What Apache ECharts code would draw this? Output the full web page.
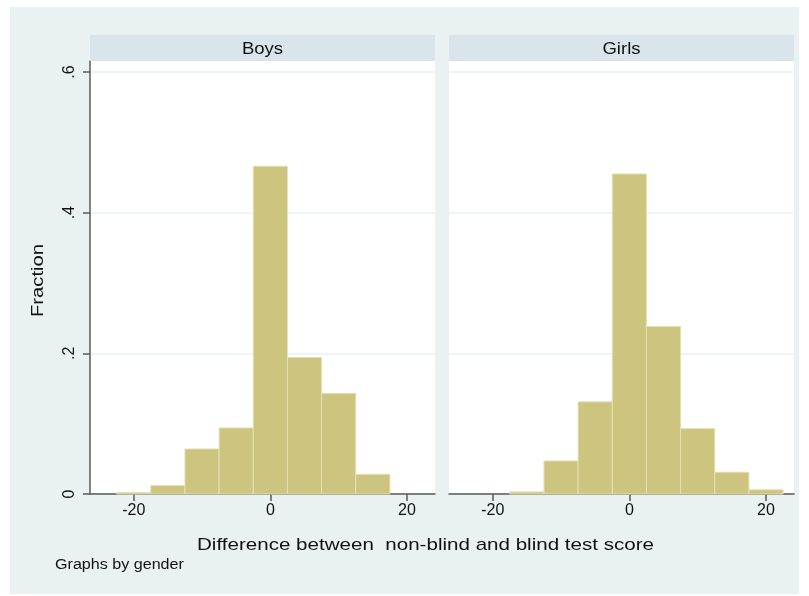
<!DOCTYPE html>
<html>
<head>
<meta charset="utf-8">
<script src="https://cdn.jsdelivr.net/npm/echarts@6/dist/echarts.min.js"></script>
<style>
  html, body { margin: 0; padding: 0; background: #ffffff; }
  #chart { width: 809px; height: 596px; }
</style>
</head>
<body>
<div id="chart"></div>
<script>
// Histogram bins: width 5, lower edges listed per panel
const binWidth = 5;
const boysBinStart = [-22.5, -17.5, -12.5, -7.5, -2.5, 2.5, 7.5, 12.5];
const boysFraction = [0.002, 0.012, 0.064, 0.094, 0.466, 0.194, 0.143, 0.028];
const girlsBinStart = [-17.5, -12.5, -7.5, -2.5, 2.5, 7.5, 12.5, 17.5];
const girlsFraction = [0.003, 0.047, 0.131, 0.455, 0.238, 0.093, 0.031, 0.006];

const panelTitles = ['Boys', 'Girls'];
const xTickValues = [-20, 0, 20];
const yTickValues = [0, 0.2, 0.4, 0.6];
const xAxisTitle = 'Difference between  non-blind and blind test score';
const yAxisTitle = 'Fraction';
const noteText = 'Graphs by gender';

const FONT = '"Liberation Sans", Arial, sans-serif';
const BAR_FILL = '#cdc47f';
const BAR_EDGE = '#e4e0b4';
const AXIS_COLOR = '#5a5a5a';
const GRID_COLOR = '#eaf1f3';

function binData(starts, values) {
  return starts.map((s, i) => [s, s + binWidth, values[i]]);
}

function renderBin(params, api) {
  const lo = api.coord([api.value(0), 0]);
  const hi = api.coord([api.value(1), api.value(2)]);
  return {
    type: 'rect',
    shape: { x: lo[0], y: hi[1], width: hi[0] - lo[0], height: lo[1] - hi[1] },
    style: { fill: BAR_FILL, stroke: BAR_EDGE, lineWidth: 1 }
  };
}

function yLabel(v) {
  if (Math.abs(v) < 1e-9) return '0';
  return '.' + Math.round(v * 10);
}

const panelLeft = [90, 449];
const panelWidth = 345;
const plotTop = 61;
const plotHeight = 433;

const grids = panelLeft.map(l => ({
  left: l, top: plotTop, width: panelWidth, height: plotHeight,
  show: true, backgroundColor: '#ffffff', borderWidth: 0
}));

const xAxes = [0, 1].map(i => ({
  type: 'value', gridIndex: i, min: -26.4, max: 24.1,
  axisLine: { show: true, onZero: false, lineStyle: { color: AXIS_COLOR, width: 1.5 } },
  axisTick: { show: true, customValues: xTickValues, length: 7, lineStyle: { color: AXIS_COLOR, width: 1.5 } },
  axisLabel: { show: true, customValues: xTickValues, color: '#111', fontFamily: FONT, fontSize: 16, margin: 9 },
  splitLine: { show: false }
}));

const yAxes = [0, 1].map(i => ({
  type: 'value', gridIndex: i, min: 0, max: 0.6156,
  axisLine: { show: i === 0, onZero: false, lineStyle: { color: AXIS_COLOR, width: 1.5 } },
  axisTick: { show: i === 0, customValues: yTickValues, length: 7, lineStyle: { color: AXIS_COLOR, width: 1.5 } },
  axisLabel: { show: i === 0, customValues: yTickValues, rotate: 90, formatter: yLabel,
               color: '#111', fontFamily: FONT, fontSize: 16, margin: 12 },
  splitLine: { show: true, lineStyle: { color: GRID_COLOR, width: 1.5 } }
}));

const headerGraphics = [];
panelLeft.forEach((l, i) => {
  headerGraphics.push({
    type: 'rect', left: l, top: 35, z: 1,
    shape: { width: panelWidth, height: 26 },
    style: { fill: '#d9e5eb' }
  });
  headerGraphics.push({
    type: 'text', x: l + panelWidth / 2, y: 49, scaleX: 1.09, z: 2,
    style: { text: panelTitles[i], fill: '#111', font: '17px ' + FONT, align: 'center', verticalAlign: 'middle' }
  });
});

const option = {
  animation: false,
  backgroundColor: '#ffffff',
  grid: grids,
  xAxis: xAxes,
  yAxis: yAxes,
  graphic: [
    { type: 'rect', left: 10, top: 7, z: -10, shape: { width: 789, height: 587 }, style: { fill: '#eaf1f3' } },
    ...headerGraphics,
    { type: 'text', x: 425.5, y: 545, scaleX: 1.21, z: 2,
      style: { text: xAxisTitle, fill: '#111', font: '17px ' + FONT, align: 'center', verticalAlign: 'middle' } },
    { type: 'text', x: 38, y: 280.5, rotation: Math.PI / 2, scaleX: 1.19, z: 2,
      style: { text: yAxisTitle, fill: '#111', font: '17px ' + FONT, align: 'center', verticalAlign: 'middle' } },
    { type: 'text', x: 55, y: 565, scaleX: 1.15, z: 2,
      style: { text: noteText, fill: '#111', font: '14px ' + FONT, align: 'left', verticalAlign: 'middle' } }
  ],
  series: [
    { type: 'custom', xAxisIndex: 0, yAxisIndex: 0, renderItem: renderBin,
      encode: { x: [0, 1], y: 2 }, data: binData(boysBinStart, boysFraction) },
    { type: 'custom', xAxisIndex: 1, yAxisIndex: 1, renderItem: renderBin,
      encode: { x: [0, 1], y: 2 }, data: binData(girlsBinStart, girlsFraction) }
  ]
};

const chart = echarts.init(document.getElementById('chart'), null, { renderer: 'canvas' });
chart.setOption(option);
</script>
</body>
</html>
